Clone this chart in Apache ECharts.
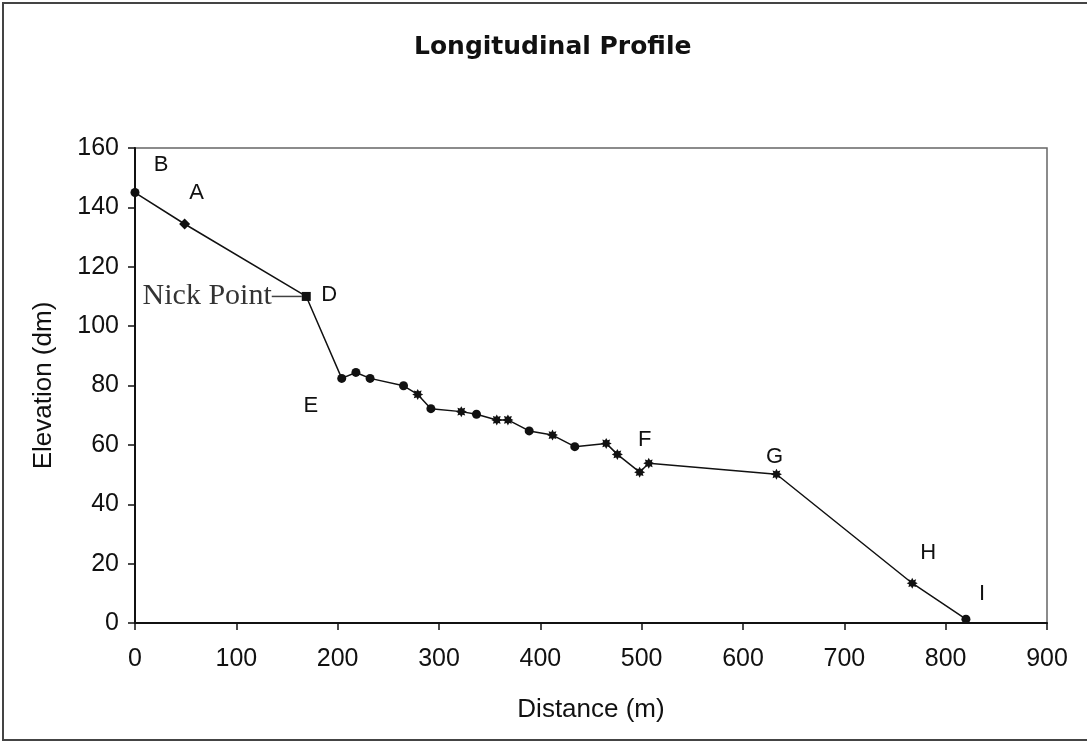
<!DOCTYPE html>
<html>
<head>
<meta charset="utf-8">
<script src="https://cdn.jsdelivr.net/npm/echarts@6/dist/echarts.min.js"></script>
<style>
  html, body { margin: 0; padding: 0; background: #fff; overflow: hidden; }
  #frame { position: absolute; left: 2px; top: 2px; width: 1100px; height: 739px; border: 2px solid #444; box-sizing: border-box; }
  #chart { position: absolute; left: 0; top: 0; width: 1087px; height: 744px; }
</style>
</head>
<body>
<div id="frame"></div>
<div id="chart"></div>
<script>
// Surveyed stream profile: distance along channel (m) and bed elevation (dm)
const distance  = [0, 49, 169, 204, 218, 232, 265, 279, 292, 322, 337, 357, 368, 389, 412, 434, 465, 476, 498, 507, 633, 767, 820];
const elevation = [145, 134.4, 110, 82.4, 84.4, 82.4, 79.9, 77.0, 72.2, 71.2, 70.3, 68.4, 68.4, 64.7, 63.3, 59.4, 60.5, 56.8, 50.8, 53.8, 50.1, 13.4, 1.3];
// Station letters (blank = unlabelled survey point)
const stationNames = ['B', 'A', 'D', 'E', '', '', '', '', '', '', '', '', '', '', '', '', '', '', '', 'F', 'G', 'H', 'I'];
const nickPointIndex = 2;
const nickPointText = 'Nick Point';
const xTicks = [0, 100, 200, 300, 400, 500, 600, 700, 800, 900];
const yTicks = [0, 20, 40, 60, 80, 100, 120, 140, 160];

// Marker style per survey point
const markerShapes = ['circle', 'diamond', 'rect', 'circle', 'circle', 'circle', 'circle', 'star', 'circle', 'star',
  'circle', 'star', 'star', 'circle', 'star', 'circle', 'star', 'star', 'star', 'star', 'star', 'star', 'circle'];

const STAR = 'path://M20,10 L15.6,12.3 L17.07,17.07 L12.3,15.6 L10,20 L7.7,15.6 L2.93,17.07 L4.4,12.3 L0,10 L4.4,7.7 L2.93,2.93 L7.7,4.4 L10,0 L12.3,4.4 L17.07,2.93 L15.6,7.7 Z';
const symbolFor = { circle: ['circle', 9], diamond: ['diamond', 11], rect: ['rect', 9], star: [STAR, 11] };
// Where each station letter sits relative to its marker
const letterOffset = { B: [26, -28], A: [12, -31], D: [23, -2], E: [-31, 28], F: [-4, -23], G: [-2, -17], H: [16, -30], I: [16, -25] };

const SANS = '"Liberation Sans", Arial, sans-serif';

const lineData = distance.map((d, i) => {
  const [sym, size] = symbolFor[markerShapes[i]];
  const item = { value: [d, elevation[i]], symbol: sym, symbolSize: size };
  const name = stationNames[i];
  if (name) {
    item.label = { show: true, position: 'inside', formatter: name, offset: letterOffset[name] || [0, -20] };
  }
  return item;
});

const chart = echarts.init(document.getElementById('chart'), null, { renderer: 'canvas' });
chart.setOption({
  animation: false,
  backgroundColor: 'transparent',
  title: {
    text: 'Longitudinal Profile',
    left: 409, top: 30,
    textStyle: { fontFamily: '"DejaVu Sans", Arial, sans-serif', fontWeight: 'bold', fontSize: 25, color: '#111' }
  },
  grid: { left: 135, top: 148, right: 40, bottom: 121, show: true, borderColor: '#666', borderWidth: 1.5, backgroundColor: 'transparent' },
  xAxis: {
    type: 'value', min: xTicks[0], max: xTicks[xTicks.length - 1], interval: 100,
    name: 'Distance (m)', nameLocation: 'middle', nameGap: 74,
    nameTextStyle: { fontFamily: SANS, fontSize: 26, color: '#111' },
    axisLine: { show: true, lineStyle: { color: '#111', width: 2 } },
    axisTick: { show: true, inside: false, length: 7, lineStyle: { color: '#111', width: 1.5 } },
    axisLabel: { fontFamily: SANS, fontSize: 25, color: '#111', margin: 24 },
    splitLine: { show: false }
  },
  yAxis: {
    type: 'value', min: yTicks[0], max: yTicks[yTicks.length - 1], interval: 20,
    name: 'Elevation (dm)', nameLocation: 'middle', nameGap: 78,
    nameTextStyle: { fontFamily: SANS, fontSize: 26, color: '#111' },
    axisLine: { show: true, lineStyle: { color: '#111', width: 2 } },
    axisTick: { show: true, inside: false, length: 7, lineStyle: { color: '#111', width: 1.5 } },
    axisLabel: { fontFamily: SANS, fontSize: 25, color: '#111', margin: 16 },
    splitLine: { show: false }
  },
  series: [
    {
      type: 'line',
      data: lineData,
      lineStyle: { color: '#111', width: 1.5 },
      itemStyle: { color: '#111', borderWidth: 0 },
      showAllSymbol: true,
      label: { fontFamily: SANS, fontSize: 22, color: '#111' },
      z: 3
    },
    {
      type: 'scatter',
      silent: true,
      data: [[distance[nickPointIndex], elevation[nickPointIndex]]],
      symbol: 'rect', symbolSize: 9,
      itemStyle: { color: 'transparent' },
      label: {
        show: true, position: 'left', distance: 0,
        formatter: '{np|' + nickPointText + '}{ld|}',
        rich: {
          np: { fontFamily: '"Liberation Serif", "Times New Roman", serif', fontSize: 30, color: '#000', verticalAlign: 'middle' },
          ld: { width: 30, height: 1.5, backgroundColor: '#111', verticalAlign: 'middle' }
        }
      },
      z: 2
    }
  ]
});
</script>
</body>
</html>
